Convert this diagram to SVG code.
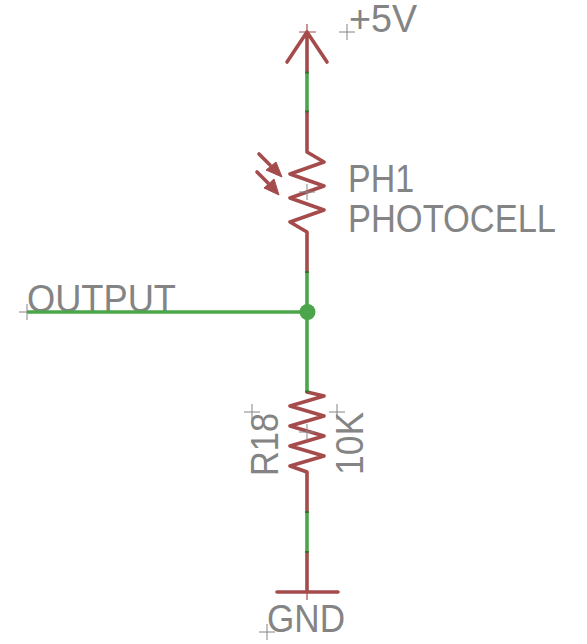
<svg xmlns="http://www.w3.org/2000/svg" width="587" height="644" viewBox="0 0 587 644">
<style>
.sym{fill:none;stroke:#A54B4B;stroke-width:3.6;stroke-linecap:round;stroke-linejoin:round}
.wire{fill:none;stroke:#4BA54B;stroke-width:3.6;stroke-linecap:butt}
.jn{fill:none;stroke:#3A6E34;stroke-width:3.6}
.org{fill:none;stroke:#848484;stroke-width:1}
.tick{fill:none;stroke:#A54B4B;stroke-width:1.2}
.lab{font-family:"Liberation Sans",Arial,sans-serif;font-size:39px;fill:#848484}
.hd{fill:#A54B4B;stroke:#A54B4B;stroke-width:1;stroke-linejoin:round}
</style>
<rect width="587" height="644" fill="#fff"/>
<g id="supply-5v">
<path class="sym" d="M307 32V72M287 62L307 32L327 62"/>
<path class="tick" d="M299 32H316M307 24V32"/>
<path class="org" d="M339 32H355M347 24V40"/>
<text class="lab" x="349" y="32" textLength="68" lengthAdjust="spacingAndGlyphs">+5V</text>
</g>
<g id="ph1">
<path class="sym" d="M307 112V152L324 162L290 174L324 186L290 198L324 210L290 222L307 232V272"/>
<path class="sym" d="M259 154L270 165M257 172L268 183"/>
<path class="hd" d="M282 177L266 170L276 162ZM279 195L264 188L274 179Z"/>
<path class="org" d="M299 192H315M307 184V200"/>
<text class="lab" x="348" y="192" textLength="66" lengthAdjust="spacingAndGlyphs">PH1</text>
<text class="lab" x="348" y="232" textLength="208" lengthAdjust="spacingAndGlyphs">PHOTOCELL</text>
</g>
<g id="r18">
<path class="sym" d="M307 392L324 396L290 406L324 416L290 426L324 436L290 446L324 456L290 466L307 472V512"/>
<path class="org" d="M244 412H260M252 404V420M329 412H345M337 404V420M299 432H315M307 424V440"/>
<text class="lab" transform="translate(278 476) rotate(-90)" textLength="63" lengthAdjust="spacingAndGlyphs">R18</text>
<text class="lab" transform="translate(363 475) rotate(-90)" textLength="63" lengthAdjust="spacingAndGlyphs">10K</text>
</g>
<g id="gnd">
<path class="sym" d="M307 552V592M277 592H338"/>
<path class="tick" d="M307 592V600"/>
<path class="org" d="M259 632H275M267 624V640"/>
<text class="lab" x="267" y="632" textLength="78" lengthAdjust="spacingAndGlyphs">GND</text>
</g>
<g id="output">
<path class="org" d="M19 312H35M27 304V320"/>
<text class="lab" x="27" y="312" textLength="149" lengthAdjust="spacingAndGlyphs">OUTPUT</text>
</g>
<g id="connectors">
<path class="wire" d="M307 72V112M307 272V392M307 512V552M27 312H307"/>
<path class="jn" d="M307 71.500V73.500M307 110.500V112.500M307 271V273M307 390.500V392.500M307 511V513M307 551V553"/>
<circle cx="307.500" cy="312" r="8" fill="#4BA54B"/>
</g>
</svg>
